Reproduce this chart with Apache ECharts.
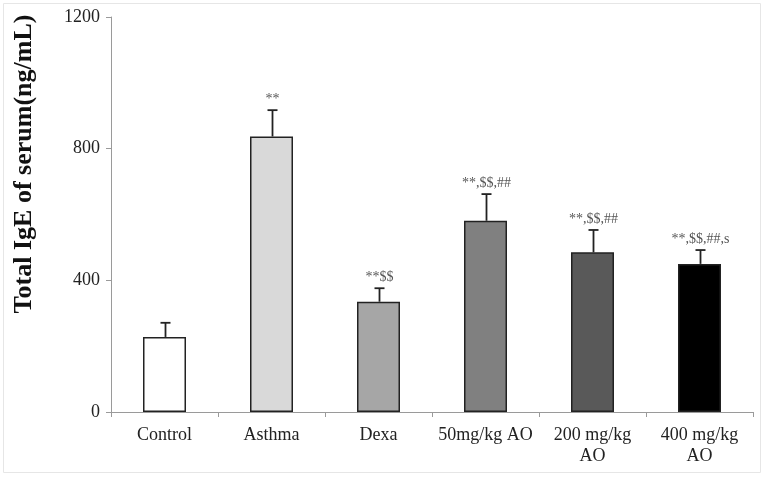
<!DOCTYPE html>
<html><head><meta charset="utf-8">
<script src="https://cdn.jsdelivr.net/npm/echarts@6/dist/echarts.min.js"></script>
<style>html,body{margin:0;padding:0;background:#fff}#c{width:766px;height:478px}</style>
</head><body><div id="c"></div>
<script>
const categories = ['Control', 'Asthma', 'Dexa', '50mg/kg AO', '200 mg/kg\nAO', '400 mg/kg\nAO'];
const means = [228, 837, 335, 581, 485, 450];
const errors = [43, 80, 41, 81, 68, 42];
const annotations = ['', '**', '**$$', '**,$$,##', '**,$$,##', '**,$$,##,s'];
const barColors = ['#ffffff', '#d9d9d9', '#a6a6a6', '#808080', '#595959', '#000000'];
const yTicks = [0, 400, 800, 1200];

const chart = echarts.init(document.getElementById('c'), null, {renderer: 'canvas'});
const serif = 'Liberation Serif, Times New Roman, serif';
chart.setOption({
  animation: false,
  backgroundColor: '#fff',
  grid: {left: 111, right: 13, top: 17, bottom: 66},
  graphic: [
    {type: 'rect', shape: {x: 3.5, y: 3.5, width: 757, height: 469}, style: {fill: 'none', stroke: '#e6e6e6', lineWidth: 1}, z: -1},
    {type: 'text', x: 24, y: 164, rotation: Math.PI / 2,
     style: {text: 'Total IgE of serum(ng/mL)', font: 'bold 26px ' + serif, fill: '#111', align: 'center', verticalAlign: 'middle'}}
  ],
  xAxis: {
    type: 'category', data: categories,
    axisLine: {lineStyle: {color: '#9a9a9a', width: 1}},
    axisTick: {show: true, length: 5, lineStyle: {color: '#9a9a9a'}},
    axisLabel: {color: '#222', fontFamily: serif, fontSize: 18, lineHeight: 21, margin: 13, interval: 0}
  },
  yAxis: {
    type: 'value', min: yTicks[0], max: yTicks[yTicks.length - 1], interval: 400,
    splitLine: {show: false},
    axisLine: {show: true, lineStyle: {color: '#9a9a9a', width: 1}},
    axisTick: {show: true, length: 5, lineStyle: {color: '#9a9a9a'}},
    axisLabel: {color: '#222', fontFamily: serif, fontSize: 18, margin: 11, formatter: v => String(v)}
  },
  series: [
    {
      type: 'bar', barWidth: 43,
      data: means.map((v, i) => ({value: v, itemStyle: {color: barColors[i]}})),
      itemStyle: {borderColor: '#222', borderWidth: 1.5}
    },
    {
      type: 'custom', z: 5,
      data: means.map((v, i) => [i, v, v + errors[i]]),
      renderItem: function (params, api) {
        const i = api.value(0);
        const base = api.coord([i, api.value(1)]);
        const top = api.coord([i, api.value(2)]);
        const x = Math.round(base[0]) + 0.5;
        return {
          type: 'group',
          children: [
            {type: 'line', shape: {x1: x, y1: base[1], x2: x, y2: top[1]}, style: {stroke: '#222', lineWidth: 1.8}},
            {type: 'line', shape: {x1: x - 5, y1: top[1], x2: x + 5, y2: top[1]}, style: {stroke: '#222', lineWidth: 1.8}},
            {type: 'text', x: x, y: top[1] - 4, style: {text: annotations[i], font: '14px ' + serif, fill: '#555', align: 'center', verticalAlign: 'bottom'}}
          ]
        };
      }
    }
  ]
});
</script></body></html>
